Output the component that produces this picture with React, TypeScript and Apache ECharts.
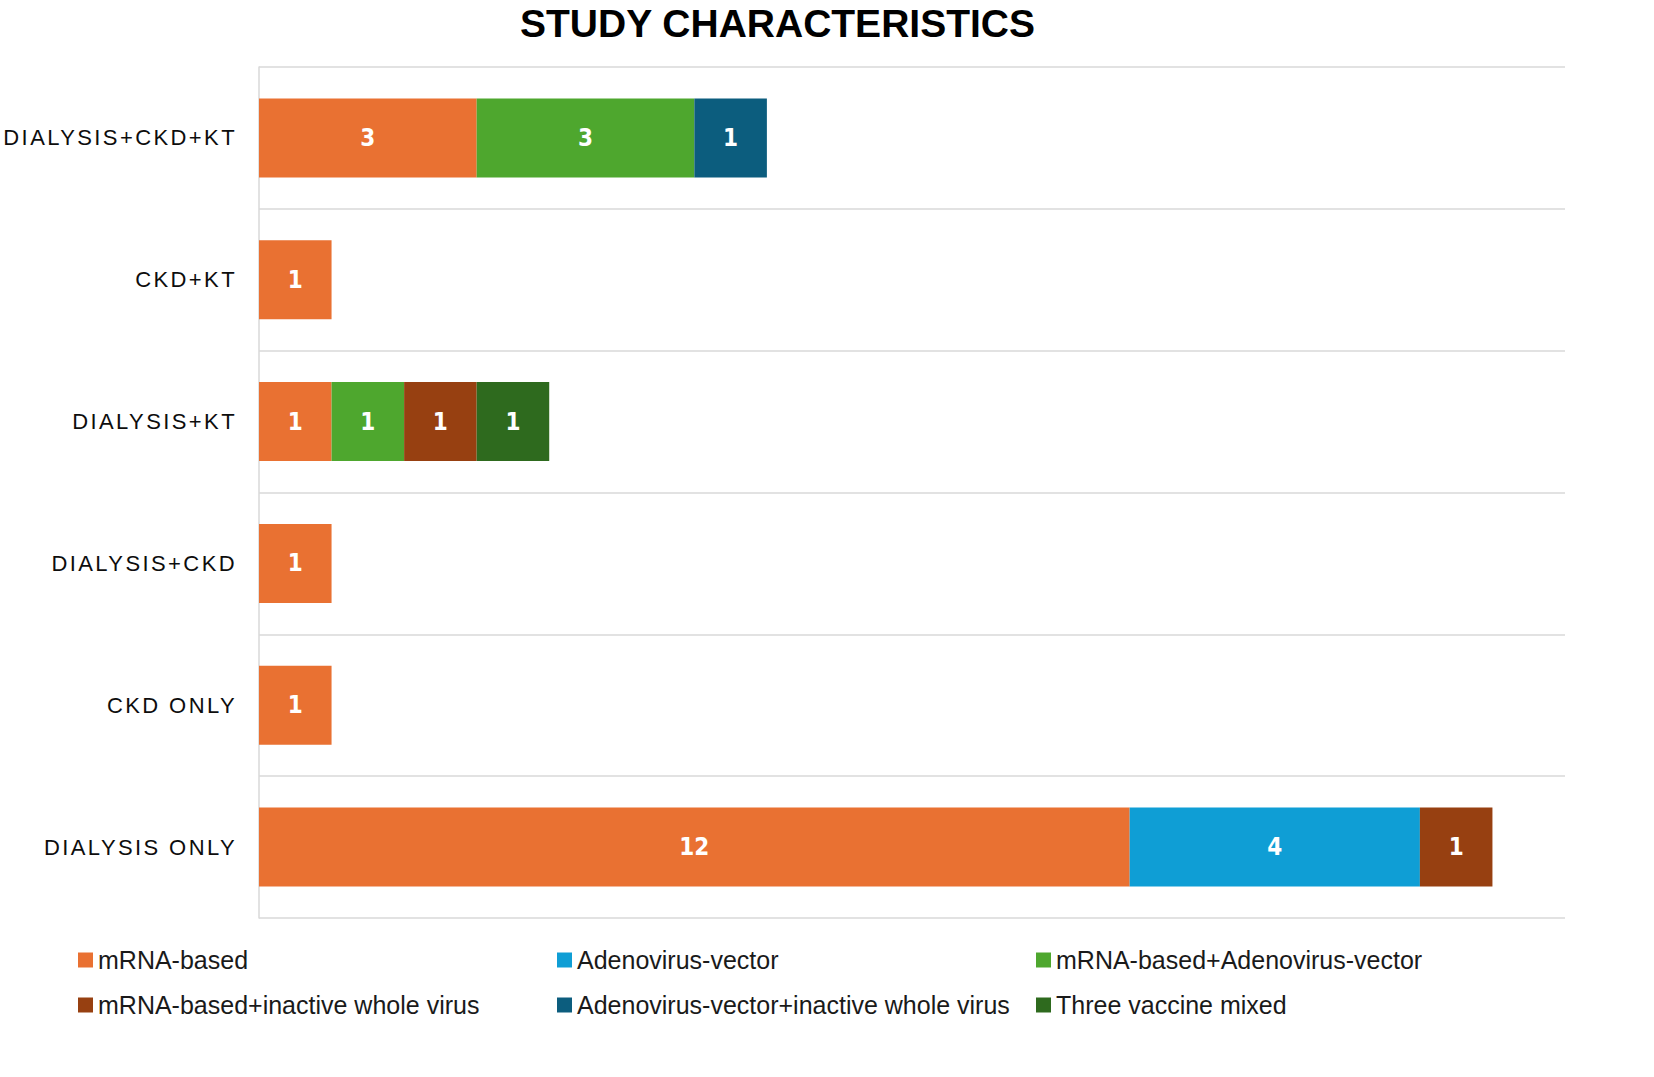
import { useEffect, useRef } from "react";
import * as echarts from "echarts";

const categories = [
  "DIALYSIS ONLY",
  "CKD ONLY",
  "DIALYSIS+CKD",
  "DIALYSIS+KT",
  "CKD+KT",
  "DIALYSIS+CKD+KT",
];
const seriesNames = [
  "mRNA-based",
  "Adenovirus-vector",
  "mRNA-based+Adenovirus-vector",
  "mRNA-based+inactive whole virus",
  "Adenovirus-vector+inactive whole virus",
  "Three vaccine mixed",
];
const mrnaBased = [12, 1, 1, 1, 1, 3];
const adenovirusVector = [4, null, null, null, null, null];
const mrnaAdenovirus = [null, null, null, 1, null, 3];
const mrnaInactive = [1, null, null, 1, null, null];
const adenovirusInactive = [null, null, null, null, null, 1];
const threeMixed = [null, null, null, 1, null, null];
const seriesValues = [
  mrnaBased,
  adenovirusVector,
  mrnaAdenovirus,
  mrnaInactive,
  adenovirusInactive,
  threeMixed,
];
const colors = ["#E97132", "#0F9ED5", "#4EA72E", "#974011", "#0C5D7E", "#2E6A1E"];

export default function App() {
  const ref = useRef<HTMLDivElement>(null);
  useEffect(() => {
    if (!ref.current) return;
    const chart = echarts.init(ref.current, undefined, { renderer: "svg" });
    const legendBase = {
      orient: "vertical",
      top: 947,
      padding: 0,
      itemWidth: 15,
      itemHeight: 15,
      itemGap: 19,
      icon: "rect",
      selectedMode: false,
      textStyle: {
        fontFamily: "Liberation Sans",
        fontSize: 25,
        lineHeight: 26,
        color: "#1a1a1a",
      },
    };
    chart.setOption({
      animation: false,
      backgroundColor: "#ffffff",
      title: {
        text: "STUDY CHARACTERISTICS",
        left: 520,
        top: 3,
        padding: 0,
        textStyle: {
          fontFamily: "Liberation Sans",
          fontWeight: "bold",
          fontSize: 39,
          lineHeight: 40,
          color: "#000000",
        },
      },
      legend: [
        { ...legendBase, left: 78, data: [seriesNames[0], seriesNames[3]] },
        { ...legendBase, left: 557, data: [seriesNames[1], seriesNames[4]] },
        { ...legendBase, left: 1036, data: [seriesNames[2], seriesNames[5]] },
      ],
      grid: { left: 259, right: 89, top: 67, bottom: 159 },
      xAxis: {
        type: "value",
        min: 0,
        max: 18,
        show: false,
        splitLine: { show: false },
      },
      yAxis: {
        type: "category",
        data: categories,
        axisLine: { show: true, lineStyle: { color: "#d9d9d9", width: 1.5 } },
        axisTick: { show: false },
        splitLine: { show: true, lineStyle: { color: "#d9d9d9", width: 1.5 } },
        axisLabel: {
          margin: 22,
          fontFamily: "Liberation Sans",
          fontSize: 22,
          color: "#0d0d0d",
        },
      },
      series: seriesNames.map((name, i) => ({
        name,
        type: "bar",
        stack: "total",
        barWidth: 79,
        data: seriesValues[i],
        itemStyle: { color: colors[i] },
        label: {
          show: true,
          position: "inside",
          color: "#ffffff",
          fontFamily: "DejaVu Sans Condensed, Liberation Sans",
          fontWeight: "bold",
          fontSize: 24,
          formatter: (p: any) => (p.value ? String(p.value) : ""),
        },
      })),
    });
    return () => chart.dispose();
  }, []);
  return (
    <>
      <style>{`#chartroot text[fill="#0d0d0d"], #chartroot text[style*="#0d0d0d"] { letter-spacing: 2.4px; }`}</style>
      <div
        id="chartroot"
        ref={ref}
        style={{ position: "absolute", left: 0, top: 0, width: 1654, height: 1077 }}
      />
    </>
  );
}
